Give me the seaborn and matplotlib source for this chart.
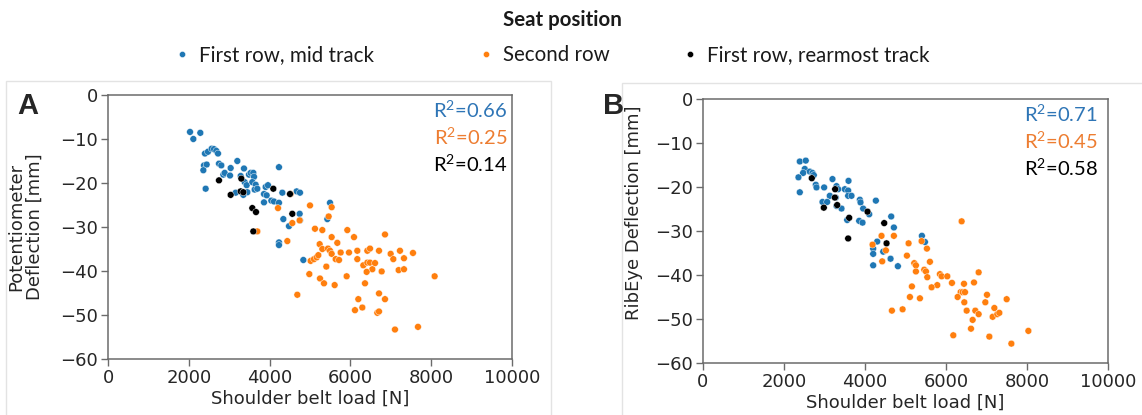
import matplotlib
matplotlib.use("Agg")
import matplotlib.pyplot as plt
import seaborn as sns
import pandas as pd
from matplotlib.patches import Rectangle

# ---------------- data ----------------
groups = ["First row, mid track", "Second row", "First row, rearmost track"]
colors = ["#1f77b4", "#ff7f0e", "#000000"]
r2_colors = ["#2e75b6", "#ed7d31", "#000000"]

# Panel A: Potentiometer deflection
a_mid_x = [2030, 2112, 2285, 2400, 2475, 2566, 2624, 2681, 2723, 2376, 2442, 2360, 2417, 2747,
           2805, 2855, 2888, 3036, 3020, 3201, 3366, 3284, 3383, 3432, 3490, 3531, 3597, 3614,
           3572, 3655, 3630, 3449, 3160, 3350, 3696, 3902, 3960, 3861, 3927, 4043, 4109, 3861,
           4232, 4232, 4315, 4670, 4752, 4340, 4480, 4744, 4752, 4232, 4232, 4835, 5495, 5429]
a_mid_y = [-8.4, -10.0, -8.6, -13.3, -12.9, -12.2, -12.3, -12.7, -13.3, -16.0, -15.8, -17.1, -21.3, -15.6,
           -16.0, -18.1, -17.7, -16.6, -18.3, -15.0, -16.7, -18.4, -19.8, -20.5, -18.1, -17.7, -17.7, -18.6,
           -19.8, -20.4, -21.5, -22.1, -22.2, -22.7, -21.3, -20.9, -20.5, -22.5, -22.8, -24.0, -24.2, -24.4,
           -24.5, -16.4, -22.2, -21.9, -22.2, -28.2, -29.8, -27.0, -28.5, -33.5, -34.1, -37.5, -24.5, -28.2]
a_rear_x = [2747, 3036, 3300, 3284, 3350, 3572, 3663, 3597, 4092, 4505, 4562]
a_rear_y = [-19.4, -22.7, -19.0, -21.9, -22.1, -25.7, -26.6, -31.0, -21.3, -22.5, -27.0]
a_second_x = [4521, 4208, 4562, 4744, 5000, 5536, 5462, 3696, 4439, 5123, 5305, 5536, 5676, 5924,
              6089, 6856, 5239, 5305, 5445, 5495, 5536, 5635, 5718, 5759, 5965, 6171, 6419, 6485,
              6708, 6996, 7062, 7227, 7326, 7549, 6171, 6320, 6419, 6485, 6609, 6543, 6774, 6402,
              7194, 7326, 5016, 5099, 5165, 5206, 5404, 4983, 5247, 5346, 5610, 5907, 6361, 8085,
              4686, 6196, 6708, 6856, 6113, 6295, 6666, 6708, 7103, 7673]
a_second_y = [-22.5, -25.7, -29.1, -28.5, -25.1, -25.5, -27.6, -31.0, -33.2, -30.4, -30.7, -32.3, -33.6, -30.7,
              -32.3, -31.7, -33.9, -35.0, -34.9, -35.4, -36.1, -37.3, -37.5, -35.8, -35.8, -35.4, -35.4, -34.9,
              -35.4, -36.1, -37.3, -35.4, -37.1, -35.9, -37.3, -38.7, -38.1, -38.1, -38.2, -39.6, -40.1, -40.2,
              -39.8, -39.6, -37.7, -37.3, -36.9, -36.4, -39.0, -40.7, -41.7, -42.8, -43.2, -41.2, -42.8, -41.2,
              -45.4, -46.4, -45.1, -46.4, -48.9, -48.3, -49.5, -49.2, -53.3, -52.7]

# Panel B: RibEye deflection
b_mid_x = [2390, 2537, 2513, 2472, 2357, 2637, 2703, 2736, 2390, 2785, 2802, 2991, 3197, 3131,
           2950, 3065, 3296, 3337, 3279, 3296, 3420, 3502, 3584, 3593, 3584, 3667, 3873, 3889,
           3955, 4104, 3560, 3856, 3939, 4268, 4647, 4713, 5405, 5480, 4301, 4202, 4202, 4450,
           4631, 4202, 4812]
b_mid_y = [-14.2, -14.0, -15.9, -16.8, -17.8, -16.5, -16.8, -17.3, -21.2, -19.5, -20.1, -20.1, -18.2, -22.0,
           -23.4, -23.4, -19.8, -20.5, -22.4, -24.3, -24.9, -20.5, -20.8, -18.6, -22.0, -22.0, -22.9, -23.5,
           -24.9, -26.2, -27.5, -27.7, -28.1, -23.1, -26.7, -29.2, -31.1, -32.5, -32.4, -34.0, -35.2, -34.7,
           -36.3, -37.8, -38.0]
b_rear_x = [2686, 3263, 3255, 3313, 2983, 3609, 4062, 4474, 4532, 3584]
b_rear_y = [-18.0, -20.5, -22.4, -24.1, -24.7, -27.0, -25.6, -28.2, -32.8, -31.7]
b_second_x = [6386, 4186, 4408, 4713, 4516, 4425, 5076, 5397, 5529, 5035, 5216, 5257, 5257, 5603,
              5463, 5505, 5538, 5850, 5892, 6032, 6147, 5784, 5644, 5158, 5109, 5356, 6444, 6691,
              6806, 6361, 6411, 6469, 6287, 6452, 7012, 6971, 7498, 7194, 4664, 4928, 6510, 6724,
              6806, 6658, 7152, 7267, 7317, 6617, 6180, 7070, 7614, 8034]
b_second_y = [-27.8, -33.1, -31.1, -31.1, -34.4, -36.9, -32.8, -32.3, -34.0, -35.6, -37.3, -37.8, -39.2, -37.0,
              -38.8, -39.2, -40.5, -39.8, -40.3, -40.3, -41.8, -42.3, -42.8, -42.6, -45.0, -45.3, -42.0, -41.7,
              -39.4, -43.9, -43.9, -43.9, -45.0, -46.2, -44.5, -46.2, -45.5, -47.5, -48.1, -47.8, -48.1, -48.1,
              -48.9, -50.2, -49.5, -48.9, -48.6, -52.2, -53.7, -54.0, -55.6, -52.7]

r2_a = ["0.66", "0.25", "0.14"]
r2_b = ["0.71", "0.45", "0.58"]

x_ticks = [0, 2000, 4000, 6000, 8000, 10000]
y_ticks = [0, -10, -20, -30, -40, -50, -60]


def frame(xs, ys):
    parts = []
    for g, x, y in zip(groups, xs, ys):
        parts.append(pd.DataFrame({"load": x, "defl": y, "seat": g}))
    return pd.concat(parts, ignore_index=True)


df_a = frame([a_mid_x, a_second_x, a_rear_x], [a_mid_y, a_second_y, a_rear_y])
df_b = frame([b_mid_x, b_second_x, b_rear_x], [b_mid_y, b_second_y, b_rear_y])

# ---------------- plot ----------------
sns.set_theme(style="white")
plt.rcParams["font.family"] = ["DejaVu Sans"]

W, H = 1142, 415
fig = plt.figure(figsize=(W / 100, H / 100), dpi=100)


def px_axes(l, r, t, b):
    return fig.add_axes([l / W, 1 - b / H, (r - l) / W, (b - t) / H])


# light panel frames
fig.patches.append(Rectangle((6 / W, -0.01), (551 - 6) / W, 1 - 81 / H + 0.01,
                             transform=fig.transFigure, fill=False, ec="#e3e3e3", lw=1))
fig.patches.append(Rectangle((622 / W, -0.01), (1145 - 622) / W, 1 - 83 / H + 0.01,
                             transform=fig.transFigure, fill=False, ec="#e3e3e3", lw=1))

ax_a = px_axes(108, 512, 95, 359)
ax_b = px_axes(703, 1108, 99, 363)

palette = dict(zip(groups, colors))
for ax, df in ((ax_a, df_a), (ax_b, df_b)):
    sns.scatterplot(data=df, x="load", y="defl", hue="seat", hue_order=groups,
                    palette=palette, s=24, edgecolor="white", linewidth=0.3,
                    ax=ax, legend=True)

handles, labels = ax_a.get_legend_handles_labels()
for ax in (ax_a, ax_b):
    if ax.get_legend() is not None:
        ax.get_legend().remove()

for ax in (ax_a, ax_b):
    ax.set_xlim(0, 10000)
    ax.set_ylim(-60, 0)
    ax.set_xticks(x_ticks)
    ax.set_yticks(y_ticks)
    ax.set_xticklabels([str(v) for v in x_ticks])
    ax.set_yticklabels([f"\u2212{abs(v)}" if v < 0 else "0" for v in y_ticks])
    for sp in ax.spines.values():
        sp.set_color("#6b6b6b")
        sp.set_linewidth(1.1)
    ax.tick_params(axis="both", which="major", direction="out", length=5, width=1,
                   color="#6b6b6b", labelsize=13, labelcolor="#262626", pad=2,
                   bottom=True, left=True)
    ax.set_xlabel("Shoulder belt load [N]", fontsize=13, color="#262626", labelpad=2)

ax_a.set_ylabel("Potentiometer\nDeflection [mm]", fontsize=13, color="#262626", linespacing=1.0)
ax_a.yaxis.set_label_coords(-0.16, 0.5)
ax_b.set_ylabel("RibEye Deflection [mm]", fontsize=13, color="#262626")
ax_b.yaxis.set_label_coords(-0.148, 0.568)

for ax, texts in ((ax_a, r2_a), (ax_b, r2_b)):
    xr = 0.988 if ax is ax_a else 0.975
    for t, c, yy in zip(texts, r2_colors, (0.943, 0.841, 0.740)):
        ax.text(xr, yy, r"R$^\mathregular{2}$=" + t, transform=ax.transAxes, ha="right",
                va="center", fontsize=14.5, color=c, family=["Lato", "DejaVu Sans"])

# panel letters
fig.text(28 / W, 1 - 106 / H, "A", fontsize=21, fontweight="bold", ha="center", va="center",
         family=["Liberation Sans", "DejaVu Sans"])
fig.text(614 / W, 1 - 106 / H, "B", fontsize=21, fontweight="bold", ha="center", va="center",
         family=["Liberation Sans", "DejaVu Sans"])

# legend: title and three entries
fig.text(562 / W, 1 - 20 / H, "Seat position", fontsize=14.8, fontweight="bold",
         ha="center", va="center", color="#1a1a1a", family=["Lato", "DejaVu Sans"])
entry_left_px = [176, 480, 684]
for h, l, xl in zip(handles, labels, entry_left_px):
    leg = fig.legend([h], [l], loc="center left", bbox_to_anchor=(xl / W, 1 - 55 / H),
                     frameon=False, handlelength=0.6, handletextpad=0.5,
                     markerscale=0.9, prop={"family": "Lato", "size": 14.8},
                     borderaxespad=0, borderpad=0)
    for t in leg.get_texts():
        t.set_color("#1a1a1a")

fig.savefig("out.png", dpi=100)
